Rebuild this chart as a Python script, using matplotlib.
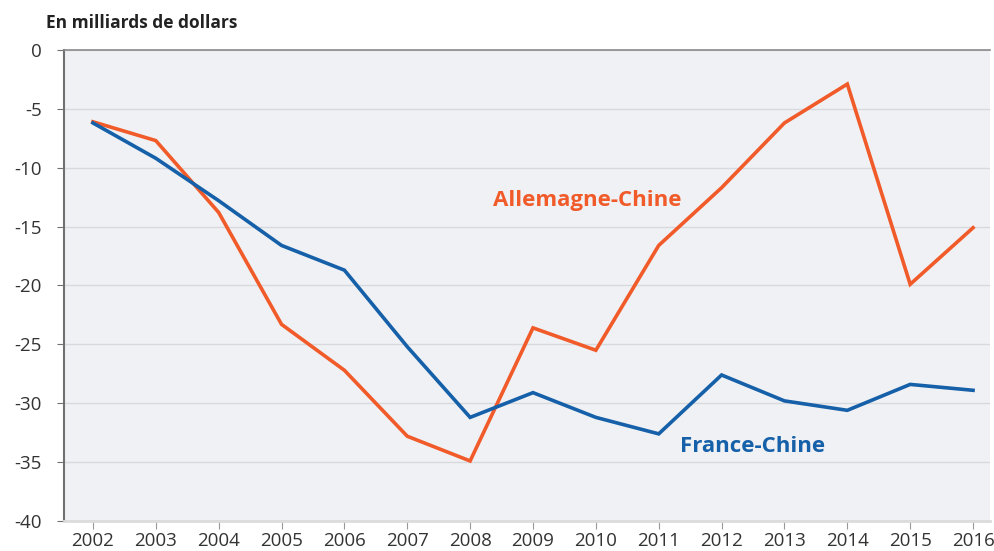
import matplotlib.pyplot as plt
import numpy as np

plt.rcParams['font.family'] = ['Open Sans', 'DejaVu Sans']

years = np.arange(2002, 2017)
allemagne = [-6.1, -7.7, -13.8, -23.3, -27.2, -32.8, -34.9, -23.6, -25.5,
             -16.6, -11.7, -6.2, -2.9, -19.9, -15.1]
france = [-6.2, -9.2, -12.8, -16.6, -18.7, -25.2, -31.2, -29.1, -31.2,
          -32.6, -27.6, -29.8, -30.6, -28.4, -28.9]

orange = '#f15a29'
blue = '#1560a8'

fig = plt.figure(figsize=(9.94, 5.51), dpi=100)
ax = fig.add_axes([0.0644, 0.0544, 0.9316, 0.855])
ax.set_facecolor('#f0f1f4')

ax.plot(years, allemagne, color=orange, lw=2.6, solid_joinstyle='miter', zorder=3)
ax.plot(years, france, color=blue, lw=2.6, solid_joinstyle='miter', zorder=3)

ax.set_xlim(2001.54, 2016.27)
ax.set_ylim(-40, 0)
ax.set_yticks(np.arange(-40, 1, 5))
ax.set_yticklabels([str(v) for v in range(-40, 1, 5)])
ax.set_xticks(years)
ax.grid(axis='y', color='#d8d9dc', lw=1)
ax.set_axisbelow(True)

ax.spines['right'].set_visible(False)
ax.spines['left'].set_color('#707070')
ax.spines['left'].set_linewidth(1.5)
ax.spines['top'].set_color('#8a8a8a')
ax.spines['top'].set_linewidth(1.2)
ax.spines['bottom'].set_color('#dcdcdc')
ax.spines['bottom'].set_linewidth(2)

ax.tick_params(axis='y', length=5, color='#707070', labelsize=13.5,
               labelcolor='#333333', pad=11)
ax.tick_params(axis='x', length=6, color='#999999', labelsize=13.5,
               labelcolor='#333333', pad=2)

fig.text(0.046, 0.958, 'En milliards de dollars', fontsize=12.5, fontweight='bold',
         color='#222222', va='center', ha='left')

ax.text(2009.87, -12.8, 'Allemagne-Chine', color=orange, fontsize=16,
        fontweight='bold', ha='center', va='center')
ax.text(2012.5, -33.7, 'France-Chine', color=blue, fontsize=16,
        fontweight='bold', ha='center', va='center')

fig.savefig('out.png', dpi=100)
